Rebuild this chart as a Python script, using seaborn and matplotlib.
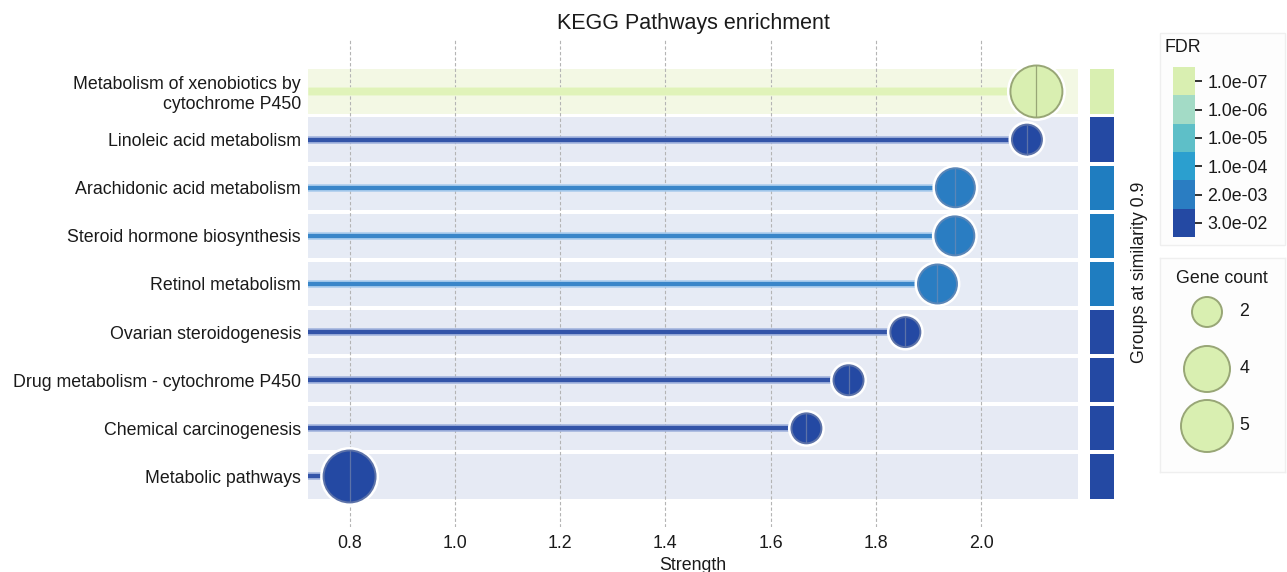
import numpy as np
import pandas as pd
import matplotlib
matplotlib.use("Agg")
import matplotlib as mpl
import matplotlib.pyplot as plt
import seaborn as sns
from matplotlib import patheffects as pe
from matplotlib.colors import ListedColormap, BoundaryNorm
from matplotlib.patches import FancyBboxPatch

# ---- data -------------------------------------------------------------
pathways = [
    "Metabolism of xenobiotics by\ncytochrome P450",
    "Linoleic acid metabolism",
    "Arachidonic acid metabolism",
    "Steroid hormone biosynthesis",
    "Retinol metabolism",
    "Ovarian steroidogenesis",
    "Drug metabolism - cytochrome P450",
    "Chemical carcinogenesis",
    "Metabolic pathways",
]
strength = [2.105, 2.087, 1.951, 1.950, 1.917, 1.856, 1.748, 1.668, 0.800]
gene_count = [5, 2, 3, 3, 3, 2, 2, 2, 5]
fdr = [1.0e-07, 3.0e-02, 2.0e-03, 2.0e-03, 2.0e-03, 3.0e-02, 3.0e-02, 3.0e-02, 3.0e-02]
groups = ["G1", "G2", "G3", "G3", "G3", "G2", "G2", "G2", "G2"]

fdr_levels = [1.0e-07, 1.0e-06, 1.0e-05, 1.0e-04, 2.0e-03, 3.0e-02]
fdr_labels = ["1.0e-07", "1.0e-06", "1.0e-05", "1.0e-04", "2.0e-03", "3.0e-02"]
legend_counts = [2, 4, 5]
x_ticks = [0.8, 1.0, 1.2, 1.4, 1.6, 1.8, 2.0]

# ---- styling ----------------------------------------------------------
sns.set_theme(style="white")
plt.rcParams["font.family"] = ["Liberation Sans", "DejaVu Sans"]
FS = 12.8
TXT = "#1a1a1a"

level_colors = ["#d9efb1", "#a3dbc6", "#5ebfc8", "#2b9fcf", "#2a7dc2", "#2449a3"]
edge_colors = ["#98a676", "#88b9a8", "#4a9aa2", "#2a80aa", "#5a86b8", "#5c72a8"]
stem_colors = ["#e0f3b9", "#a3dbc6", "#5ebfc8", "#2b9fcf", "#3a86c9", "#3354a8"]
stem_halo = ["#e9f6cc", "#d5eee4", "#c0e6ea", "#b5dcf0", "#a8cbec", "#9eb0dc"]
band_colors = ["#f3f8e4", "#e8f1ef", "#e6eef2", "#e6ecf4", "#e6ebf5", "#e6eaf4"]
group_palette = {"G1": "#d9efb1", "G2": "#2449a3", "G3": "#1f7dc0"}

# diameter of each bubble in pixels per gene count
diam_px = {2: 30, 3: 39, 4: 46, 5: 52}
sizes = {c: (d * 0.72) ** 2 for c, d in diam_px.items()}

df = pd.DataFrame({
    "pathway": pathways,
    "strength": strength,
    "count": gene_count,
    "fdr": fdr,
    "group": groups,
})
df["row"] = np.arange(len(df))
df["level"] = np.searchsorted(fdr_levels, df["fdr"].to_numpy())

W, H = 1287, 572
fig = plt.figure(figsize=(W / 100, H / 100), dpi=100)


def frame_rect(x0, y0, x1, y1):
    """Figure-fraction rectangle from pixel edges (top-left origin)."""
    return [x0 / W, 1 - y1 / H, (x1 - x0) / W, (y1 - y0) / H]


ax_top, ax_bot = 40, 527
ax = fig.add_axes(frame_rect(308, ax_top, 1078, ax_bot))
xmin, xmax = 0.721, 2.184
n = len(df)
ax.set_xlim(xmin, xmax)
ax.set_ylim(n - 1 + 1.05, -1.07)

# row bands
for r, lvl in zip(df["row"], df["level"]):
    ax.axhspan(r - 0.46, r + 0.46, color=band_colors[lvl], lw=0, zorder=0)

# stems
for r, s, lvl in zip(df["row"], df["strength"], df["level"]):
    lw = 5.0 if lvl == 0 else 3.0
    lc = ax.hlines(r, xmin, s, color=stem_colors[lvl], lw=lw, zorder=2)
    halo = lw + 1.2 if lvl == 0 else lw + 2.4
    lc.set_path_effects([pe.Stroke(linewidth=halo, foreground=stem_halo[lvl]), pe.Normal()])

# bubbles
sns.scatterplot(
    data=df, x="strength", y="row", hue="level",
    palette={l: level_colors[l] for l in df["level"].unique()},
    size="count", sizes=sizes, legend=False, ax=ax, zorder=3,
    edgecolor=[edge_colors[l] for l in df["level"]], linewidth=1.4,
)
ax.collections[-1].set_path_effects([pe.Stroke(linewidth=5, foreground="white"), pe.Normal()])

# thin centre line through each bubble
sns.scatterplot(
    data=df, x="strength", y="row", hue="level",
    palette={l: edge_colors[l] for l in df["level"].unique()},
    size="count", sizes=sizes, legend=False, ax=ax, zorder=4,
    marker="|", linewidth=0.9,
)

ax.set_xticks(x_ticks)
ax.set_xticklabels([f"{t:.1f}" for t in x_ticks])
ax.set_yticks(df["row"])
ax.set_yticklabels(df["pathway"])
ax.grid(axis="x", color="#b4b4b4", lw=0.8, ls=(0, (3, 2)))
ax.grid(axis="y", visible=False)
ax.set_axisbelow(True)
for sp in ax.spines.values():
    sp.set_visible(False)
ax.tick_params(axis="both", length=0, labelsize=FS, colors=TXT)
ax.tick_params(axis="x", pad=6)
ax.tick_params(axis="y", pad=5)
ax.set_xlabel("Strength", fontsize=FS, labelpad=3, color=TXT)
ax.set_ylabel("")
ax.set_title("KEGG Pathways enrichment", fontsize=15.5, pad=8, color=TXT)

# group strip
gax = fig.add_axes(frame_rect(1090, ax_top, 1114, ax_bot))
gax.barh(df["row"], 1, height=0.92, color=[group_palette[g] for g in df["group"]], lw=0)
gax.set_xlim(0, 1)
gax.set_ylim(ax.get_ylim())
gax.axis("off")
fig.text(1139 / W, 1 - 272 / H, "Groups at similarity 0.9", rotation=90,
         ha="center", va="center", fontsize=FS, color=TXT)

# FDR colour key
fig.patches.append(FancyBboxPatch((1160 / W, 1 - 245 / H), 125 / W, 212 / H,
                                  boxstyle="square,pad=0", transform=fig.transFigure,
                                  facecolor="#fdfdfd", edgecolor="#efefef", lw=1, zorder=-1))
fig.text(1165 / W, 1 - 47 / H, "FDR", fontsize=FS, va="center", ha="left", color=TXT)
cax = fig.add_axes(frame_rect(1173, 67, 1195, 237))
cmap = ListedColormap(level_colors[::-1])
norm = BoundaryNorm(np.arange(len(fdr_levels) + 1), cmap.N)
cb = fig.colorbar(mpl.cm.ScalarMappable(norm=norm, cmap=cmap), cax=cax,
                  ticks=np.arange(len(fdr_levels)) + 0.5)
cb.set_ticklabels(fdr_labels[::-1])
cb.outline.set_visible(False)
cax.tick_params(length=5, width=1.3, color="#222222", labelsize=FS, pad=4, colors=TXT)
cax.tick_params(which="minor", length=0)

# gene count key
lax = fig.add_axes(frame_rect(1160, 258, 1285, 472))
key = pd.DataFrame({"count": legend_counts, "slot": np.arange(len(legend_counts))})
key["col"] = 0.376
sns.scatterplot(data=key, x="col", y="slot", size="count", sizes=sizes,
                color=level_colors[0], edgecolor=edge_colors[0], linewidth=1.4,
                legend=False, ax=lax)
for slot, c in zip(key["slot"], key["count"]):
    lax.text(0.635, slot, str(c), ha="left", va="center", fontsize=FS, color=TXT)
lax.text(0.496, -0.58, "Gene count", ha="center", va="center", fontsize=FS, color=TXT)
lax.set_xlim(0, 1)
lax.set_ylim(2.807, -0.947)
lax.set_xticks([])
lax.set_yticks([])
lax.set_xlabel("")
lax.set_ylabel("")
lax.set_facecolor("#fdfdfd")
for sp in lax.spines.values():
    sp.set_color("#efefef")
    sp.set_linewidth(1)

fig.savefig("out.png", dpi=100)
